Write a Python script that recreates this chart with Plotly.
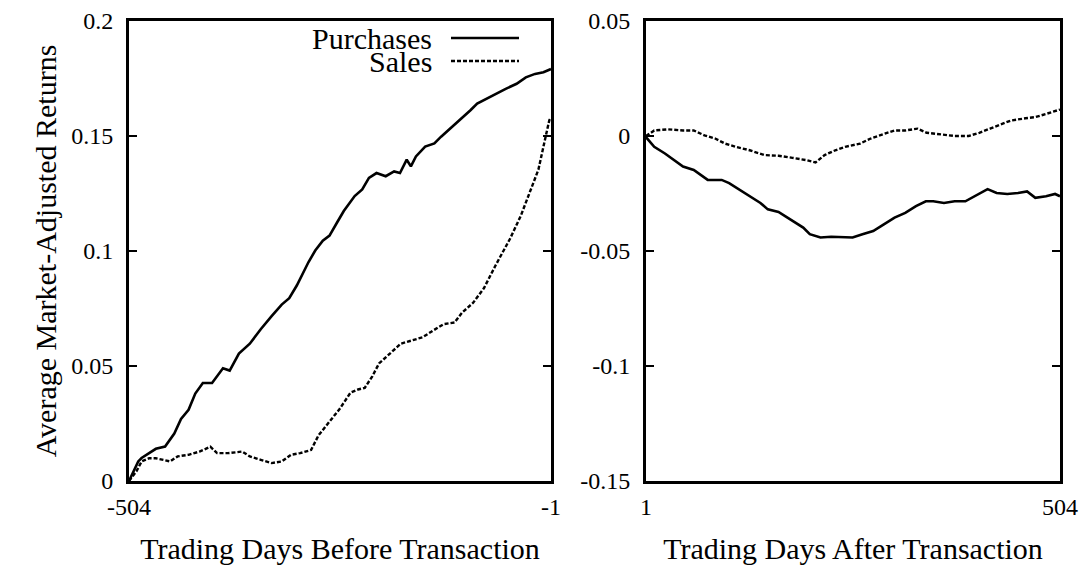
import plotly.graph_objects as go
from plotly.subplots import make_subplots

# ---- data ----
before_purch_x = [-504, -493, -489, -472, -461, -450, -442, -433, -425, -416, -405, -399, -392, -384,
                  -373, -360, -347, -334, -322, -313, -304, -290, -282, -273, -265, -256, -248, -235,
                  -226, -218, -209, -198, -188, -181, -173, -168, -162, -151, -140, -132, -123, -110,
                  -97, -89, -78, -67, -55, -42, -31, -20, -10, -1]
before_purch_y = [0.0, 0.0085, 0.0100, 0.0140, 0.0150, 0.0206, 0.0270, 0.0310, 0.0380, 0.0426, 0.0426,
                  0.0455, 0.0490, 0.0480, 0.0554, 0.0597, 0.0660, 0.0717, 0.0767, 0.0795, 0.0850,
                  0.0952, 0.1002, 0.1045, 0.1067, 0.1124, 0.1174, 0.1239, 0.1268, 0.1318, 0.1339,
                  0.1325, 0.1346, 0.1339, 0.1397, 0.1368, 0.1411, 0.1454, 0.1468, 0.1497, 0.1526,
                  0.1569, 0.1612, 0.1641, 0.1662, 0.1684, 0.1705, 0.1727, 0.1755, 0.1770, 0.1777, 0.1791]

before_sales_x = [-504, -495, -489, -480, -472, -463, -455, -446, -433, -420, -407, -399, -386, -369,
                  -360, -347, -334, -322, -311, -300, -287, -278, -266, -253, -240, -231, -223, -214,
                  -206, -193, -180, -167, -154, -142, -129, -116, -107, -94, -81, -67, -50, -37, -25,
                  -16, -10, -3, -1]
before_sales_y = [0.0, 0.0043, 0.0085, 0.0099, 0.0099, 0.0092, 0.0085, 0.0107, 0.0114, 0.0128, 0.0149,
                  0.0121, 0.0121, 0.0128, 0.0107, 0.0092, 0.0078, 0.0085, 0.0114, 0.0121, 0.0135,
                  0.0199, 0.0256, 0.0313, 0.0384, 0.0398, 0.0405, 0.0455, 0.0511, 0.0554, 0.0597,
                  0.0611, 0.0625, 0.0653, 0.0682, 0.0689, 0.0732, 0.0774, 0.0838, 0.0938, 0.1052,
                  0.1153, 0.1268, 0.1354, 0.1454, 0.1569, 0.1580]

after_purch_x = [1, 11, 24, 37, 46, 59, 67, 76, 85, 93, 102, 115, 127, 140, 149, 162, 170, 179, 192,
                 200, 213, 226, 239, 252, 264, 277, 290, 303, 316, 329, 341, 350, 363, 376, 389, 401,
                 416, 427, 440, 453, 464, 474, 487, 498, 504]
after_purch_y = [-0.0005, -0.0047, -0.0076, -0.0112, -0.0133, -0.0148, -0.0169, -0.0191, -0.0191,
                 -0.0191, -0.0205, -0.0234, -0.0262, -0.0291, -0.0319, -0.0330, -0.0348, -0.0370,
                 -0.0398, -0.0427, -0.0441, -0.0438, -0.0438, -0.0441, -0.0427, -0.0413, -0.0384,
                 -0.0355, -0.0334, -0.0305, -0.0284, -0.0284, -0.0291, -0.0284, -0.0284, -0.0262,
                 -0.0231, -0.0248, -0.0252, -0.0248, -0.0241, -0.0269, -0.0262, -0.0252, -0.0262]

after_sales_x = [1, 11, 28, 46, 59, 72, 85, 97, 110, 127, 145, 162, 179, 196, 207, 218, 231, 243,
                 261, 274, 291, 303, 316, 331, 342, 359, 376, 393, 406, 419, 432, 444, 462, 474, 487,
                 498, 504]
after_sales_y = [0.0, 0.0024, 0.0029, 0.0024, 0.0024, 0.0003, -0.0011, -0.0033, -0.0047, -0.0062,
                 -0.0083, -0.0086, -0.0095, -0.0105, -0.0115, -0.0083, -0.0062, -0.0047, -0.0033,
                 -0.0011, 0.0010, 0.0024, 0.0024, 0.0032, 0.0014, 0.0006, 0.0, 0.0, 0.0014, 0.0032,
                 0.0049, 0.0067, 0.0077, 0.0082, 0.0096, 0.0110, 0.0115]

left_x_ticks = [-504, -1]
left_x_labels = ["-504", "-1"]
right_x_ticks = [1, 504]
right_x_labels = ["1", "504"]
left_y_ticks = [0, 0.05, 0.1, 0.15, 0.2]
left_y_labels = ["0", "0.05", "0.1", "0.15", "0.2"]
right_y_ticks = [-0.15, -0.1, -0.05, 0, 0.05]
right_y_labels = ["-0.15", "-0.1", "-0.05", "0", "0.05"]

series_names = ["Purchases", "Sales"]

FONT = "Liberation Serif"
TICKFONT = dict(family=FONT, size=24, color="black")
TITLEFONT = dict(family=FONT, size=30, color="black")
SOLID = dict(color="black", width=2.6)
DASHED = dict(color="black", width=2.4, dash="4px,2px")

fig = make_subplots(rows=1, cols=2, horizontal_spacing=0.1)

fig.add_trace(go.Scatter(x=before_purch_x, y=before_purch_y, mode="lines", line=SOLID,
                         name=series_names[0], showlegend=False), row=1, col=1)
fig.add_trace(go.Scatter(x=before_sales_x, y=before_sales_y, mode="lines", line=DASHED,
                         name=series_names[1], showlegend=False), row=1, col=1)
fig.add_trace(go.Scatter(x=after_purch_x, y=after_purch_y, mode="lines", line=SOLID,
                         name=series_names[0], showlegend=False), row=1, col=2)
fig.add_trace(go.Scatter(x=after_sales_x, y=after_sales_y, mode="lines", line=DASHED,
                         name=series_names[1], showlegend=False), row=1, col=2)

# page has an 8px body margin; figure is sized so the plot areas land where the original's are
OFF = 8
PLOT_LEFT, PLOT_TOP, PLOT_BOTTOM = 129, 21, 481
W, H = 1091 - OFF, 572 - OFF
ml, mr, mt, mb = PLOT_LEFT - OFF, 31, PLOT_TOP - OFF, 91
pw = W - ml - mr
ph = H - mt - mb

xcommon = dict(showline=True, linecolor="black", linewidth=3, mirror=True, showgrid=False,
               zeroline=False, automargin=False, ticks="", tickfont=TICKFONT,
               ticklabelstandoff=2, tickmode="array", ticklabeloverflow="allow")
ycommon = dict(showline=True, linecolor="black", linewidth=3, mirror="ticks", showgrid=False,
               zeroline=False, automargin=False, ticks="inside", ticklen=8, tickwidth=2,
               tickcolor="black", tickfont=TICKFONT, ticklabelstandoff=8, tickmode="array",
               ticklabeloverflow="allow")

fig.update_layout(
    font=dict(family=FONT, color="black"),
    xaxis=dict(xcommon, domain=[0, 422 / pw], range=[-504, -1],
               tickvals=left_x_ticks, ticktext=left_x_labels,
               title=dict(text="Trading Days Before Transaction", font=TITLEFONT, standoff=20)),
    xaxis2=dict(xcommon, domain=[(646 - PLOT_LEFT) / pw, 1], range=[1, 504],
                tickvals=right_x_ticks, ticktext=right_x_labels,
                title=dict(text="Trading Days After Transaction", font=TITLEFONT, standoff=20)),
    yaxis=dict(ycommon, range=[0, 0.2], tickvals=left_y_ticks, ticktext=left_y_labels,
               title=dict(text="Average Market-Adjusted Returns", font=TITLEFONT, standoff=6)),
    yaxis2=dict(ycommon, range=[-0.15, 0.05], tickvals=right_y_ticks, ticktext=right_y_labels),
    width=W, height=H,
    margin=dict(l=ml, r=mr, t=mt, b=mb),
    paper_bgcolor="white", plot_bgcolor="white",
    showlegend=False,
)

# key (text on the left, line sample on the right), as in the original
pw_left = 422.0
rows = [(38, SOLID, series_names[0]), (61, DASHED, series_names[1])]
for ypix, ln, label in rows:
    yd = (PLOT_BOTTOM - ypix) / ph
    fig.add_annotation(xref="x domain", yref="y domain", x=(434 - PLOT_LEFT) / pw_left, y=yd,
                       text=label, showarrow=False, xanchor="right", yanchor="middle",
                       font=TITLEFONT)
    fig.add_shape(type="line", xref="x domain", yref="y domain",
                  x0=(451 - PLOT_LEFT) / pw_left, x1=(519 - PLOT_LEFT) / pw_left, y0=yd, y1=yd,
                  line=ln)

fig.write_html("out.html")
